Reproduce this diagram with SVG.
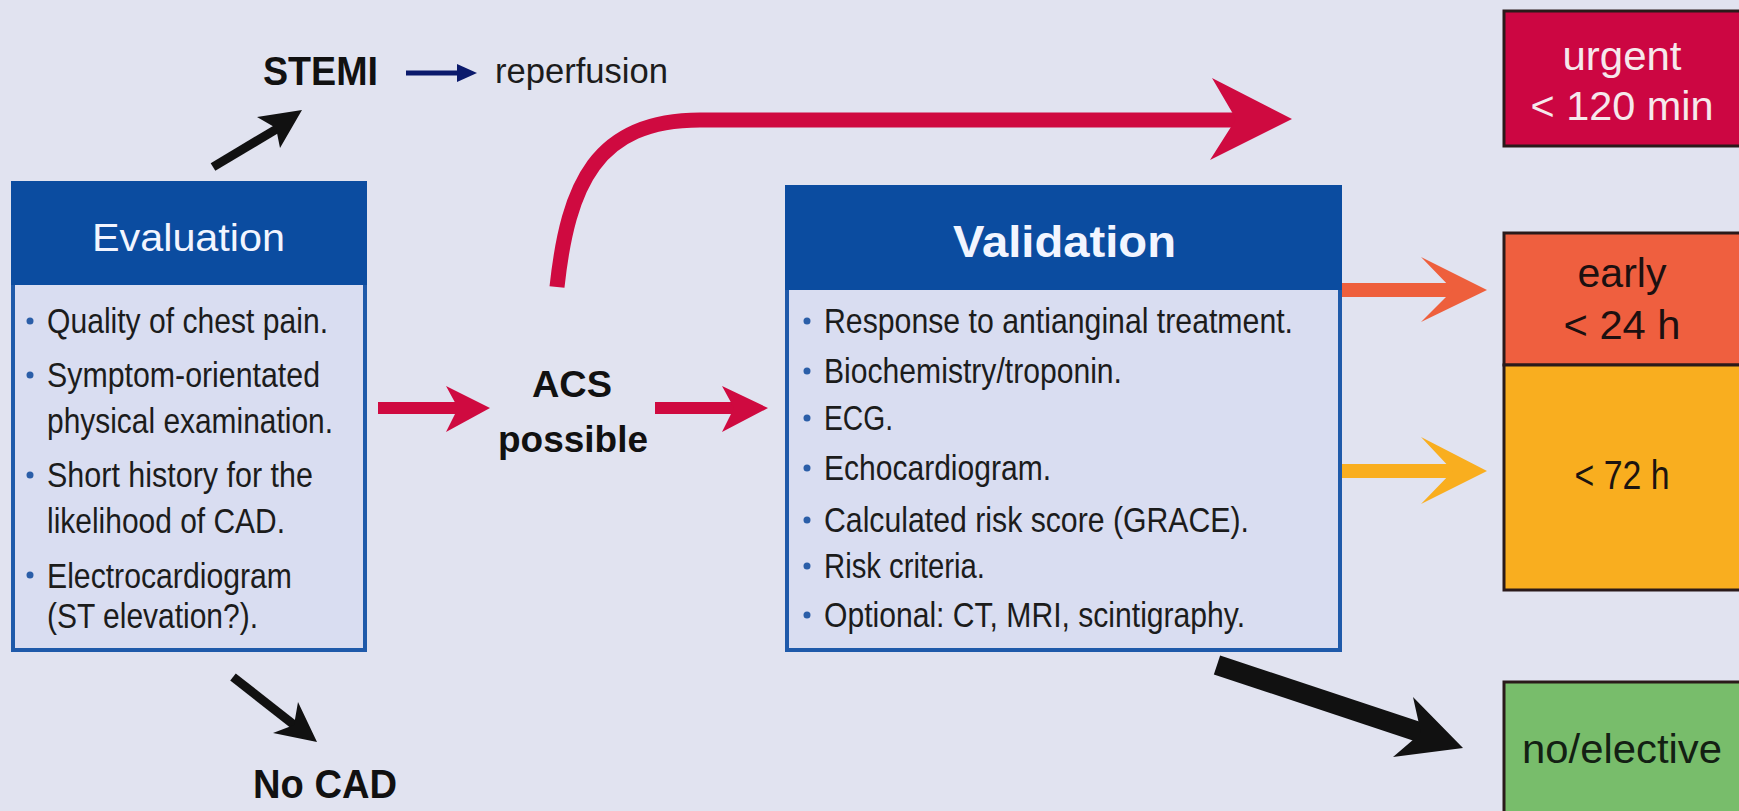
<svg xmlns="http://www.w3.org/2000/svg" width="1739" height="811" viewBox="0 0 1739 811">
<style>
.bg{fill:#e1e3f0}
.body{fill:#d9ddf1;stroke:#1f5aaa;stroke-width:4}
.head{fill:#0b4ca0}
.t{font-family:"Liberation Sans",Arial,sans-serif;font-size:35px;fill:#1c1c1c}
.title{font-family:"Liberation Sans",Arial,sans-serif;fill:#f2f5ff}
.b{font-family:"Liberation Sans",Arial,sans-serif;font-weight:bold;fill:#111}
.bul{fill:#2b5ea8}
.box{stroke:#2a1a1a;stroke-width:3}
.rt{font-family:"Liberation Sans",Arial,sans-serif;font-size:41px;text-anchor:middle}
.red{stroke:#cf0a40;fill:none}
.redf{fill:#cf0a40}
.blk{stroke:#111;fill:none}
.blkf{fill:#111}
</style>
<rect class="bg" x="0" y="0" width="1739" height="811"/>

<g id="evaluation">
<rect class="body" x="13" y="183" width="352" height="467"/>
<rect class="head" x="11" y="181" width="356" height="104"/>
<text class="title" x="92" y="251" font-size="38" textLength="193" lengthAdjust="spacingAndGlyphs">Evaluation</text>
<circle class="bul" cx="30" cy="321" r="3.5"/>
<circle class="bul" cx="30" cy="375" r="3.5"/>
<circle class="bul" cx="30" cy="475" r="3.5"/>
<circle class="bul" cx="30" cy="575" r="3.5"/>
<text class="t" x="47" y="333" textLength="281" lengthAdjust="spacingAndGlyphs">Quality of chest pain.</text>
<text class="t" x="47" y="387" textLength="273" lengthAdjust="spacingAndGlyphs">Symptom-orientated</text>
<text class="t" x="47" y="433" textLength="286" lengthAdjust="spacingAndGlyphs">physical examination.</text>
<text class="t" x="47" y="487" textLength="266" lengthAdjust="spacingAndGlyphs">Short history for the</text>
<text class="t" x="47" y="533" textLength="238" lengthAdjust="spacingAndGlyphs">likelihood of CAD.</text>
<text class="t" x="47" y="588" textLength="245" lengthAdjust="spacingAndGlyphs">Electrocardiogram</text>
<text class="t" x="47" y="628" textLength="211" lengthAdjust="spacingAndGlyphs">(ST elevation?).</text>
</g>

<g id="validation">
<rect class="body" x="787" y="187" width="553" height="463"/>
<rect class="head" x="785" y="185" width="557" height="105"/>
<text class="title" x="953" y="257" font-size="45" font-weight="bold" textLength="223" lengthAdjust="spacingAndGlyphs">Validation</text>
<circle class="bul" cx="807" cy="321" r="3.5"/>
<circle class="bul" cx="807" cy="371" r="3.5"/>
<circle class="bul" cx="807" cy="418" r="3.5"/>
<circle class="bul" cx="807" cy="468" r="3.5"/>
<circle class="bul" cx="807" cy="520" r="3.5"/>
<circle class="bul" cx="807" cy="566" r="3.5"/>
<circle class="bul" cx="807" cy="615" r="3.5"/>
<text class="t" x="824" y="333" textLength="469" lengthAdjust="spacingAndGlyphs">Response to antianginal treatment.</text>
<text class="t" x="824" y="383" textLength="298" lengthAdjust="spacingAndGlyphs">Biochemistry/troponin.</text>
<text class="t" x="824" y="430" textLength="69" lengthAdjust="spacingAndGlyphs">ECG.</text>
<text class="t" x="824" y="480" textLength="227" lengthAdjust="spacingAndGlyphs">Echocardiogram.</text>
<text class="t" x="824" y="532" textLength="425" lengthAdjust="spacingAndGlyphs">Calculated risk score (GRACE).</text>
<text class="t" x="824" y="578" textLength="161" lengthAdjust="spacingAndGlyphs">Risk criteria.</text>
<text class="t" x="824" y="627" textLength="421" lengthAdjust="spacingAndGlyphs">Optional: CT, MRI, scintigraphy.</text>
</g>

<g id="stemi">
<text class="b" x="263" y="85" font-size="41" textLength="115" lengthAdjust="spacingAndGlyphs">STEMI</text>
</g>
<g id="reperfusion">
<text class="t" x="495" y="83" font-size="38" textLength="173" lengthAdjust="spacingAndGlyphs">reperfusion</text>
</g>
<g id="acs">
<text class="b" x="572" y="397" font-size="37" text-anchor="middle" textLength="80" lengthAdjust="spacingAndGlyphs">ACS</text>
<text class="b" x="573" y="452" font-size="37" text-anchor="middle" textLength="150" lengthAdjust="spacingAndGlyphs">possible</text>
</g>
<g id="nocad">
<text class="b" x="253" y="798" font-size="41" textLength="144" lengthAdjust="spacingAndGlyphs">No CAD</text>
</g>

<g id="urgent">
<rect class="box" x="1504" y="11" width="240" height="135" fill="#cc0642"/>
<text class="rt" x="1622" y="70" fill="#f6e8ec" textLength="119" lengthAdjust="spacingAndGlyphs">urgent</text>
<text class="rt" x="1622" y="120" fill="#f6e8ec" textLength="183" lengthAdjust="spacingAndGlyphs">&lt; 120 min</text>
</g>
<g id="early">
<rect class="box" x="1504" y="233" width="240" height="132" fill="#ef5f3f"/>
<text class="rt" x="1622" y="287" fill="#1c1010" textLength="89" lengthAdjust="spacingAndGlyphs">early</text>
<text class="rt" x="1622" y="339" fill="#1c1010" textLength="117" lengthAdjust="spacingAndGlyphs">&lt; 24 h</text>
</g>
<g id="h72">
<rect class="box" x="1504" y="365" width="240" height="225" fill="#f9ae1f"/>
<text class="rt" x="1622" y="489" fill="#1c1410" font-size="38" textLength="95" lengthAdjust="spacingAndGlyphs">&lt; 72 h</text>
</g>
<g id="elective">
<rect class="box" x="1504" y="682" width="240" height="140" fill="#78bd6b"/>
<text class="rt" x="1622" y="763" fill="#132013" textLength="200" lengthAdjust="spacingAndGlyphs">no/elective</text>
</g>

<g id="connectors">
<line class="blk" x1="213" y1="167" x2="280" y2="127" stroke-width="9"/>
<polygon class="blkf" points="257,117 302,110 280,148 276,128"/>
<line x1="406" y1="73" x2="460" y2="73" stroke="#0b1a6c" stroke-width="5"/>
<polygon fill="#0b1a6c" points="457,64 477,73 457,82"/>
<line class="blk" x1="233" y1="677" x2="298" y2="728" stroke-width="9"/>
<polygon class="blkf" points="298,702 317,742 273,733 294,725"/>
<line class="red" x1="378" y1="408" x2="460" y2="408" stroke-width="12"/>
<polygon class="redf" points="446,386 490,408 446,432 458,408"/>
<line class="red" x1="655" y1="408" x2="736" y2="408" stroke-width="12"/>
<polygon class="redf" points="722,386 768,408 722,432 734,408"/>
<path class="red" d="M 557 287 C 568 185, 596 120, 700 120 L 1240 120" stroke-width="15"/>
<polygon class="redf" points="1212,78 1292,119 1210,160 1236,119"/>
<line x1="1342" y1="290" x2="1456" y2="290" stroke="#ee5f3c" stroke-width="14"/>
<polygon fill="#ee5f3c" points="1421,257 1487,290 1421,322 1453,290"/>
<line x1="1342" y1="471" x2="1456" y2="471" stroke="#f9ae1f" stroke-width="14"/>
<polygon fill="#f9ae1f" points="1421,437 1487,471 1421,504 1453,471"/>
<line class="blk" x1="1217" y1="665" x2="1425" y2="734" stroke-width="20"/>
<polygon class="blkf" points="1413,697 1463,748 1393,757 1421,733"/>
</g>
</svg>
